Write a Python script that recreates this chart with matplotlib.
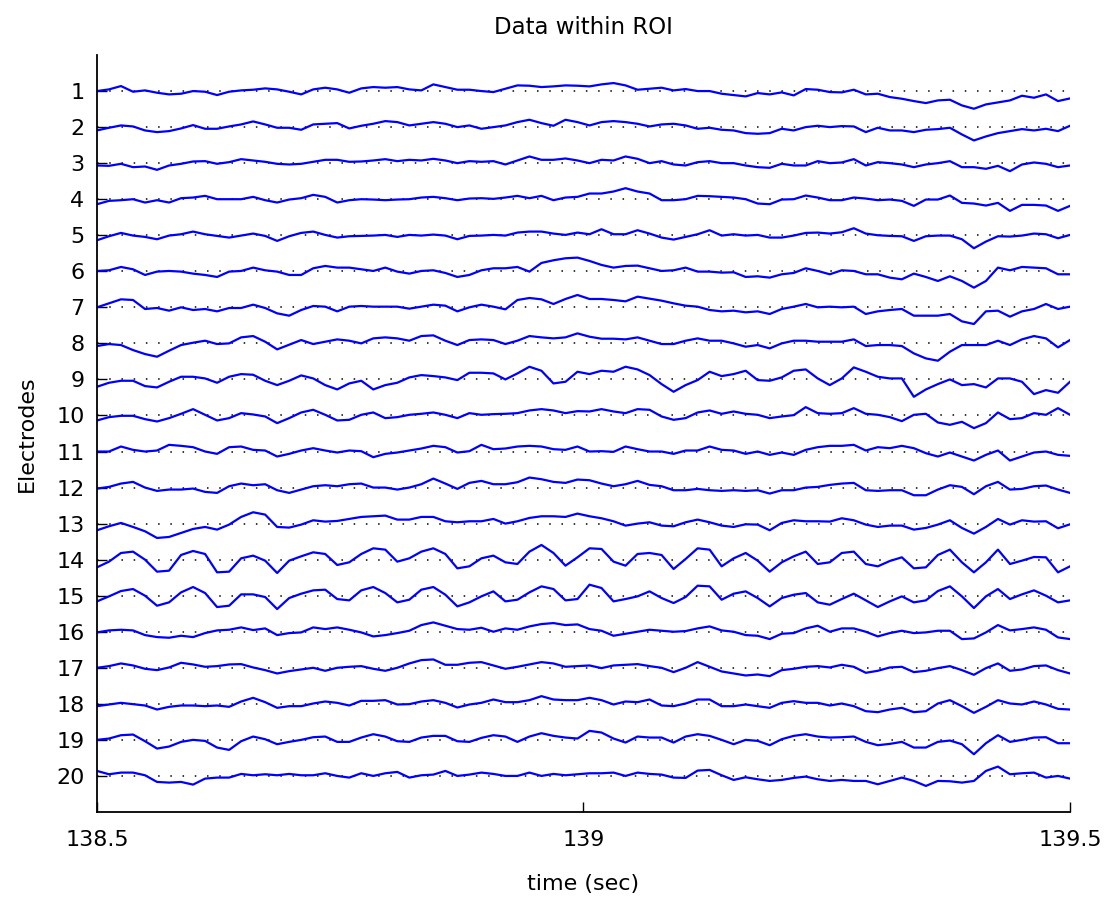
#! /usr/bin/env python
# Data within ROI - stacked electrode traces

import numpy as np
import matplotlib.pyplot as plt

plt.rcParams['font.family'] = ['DejaVu Sans']

# time axis of the region of interest (sec)
t_start, t_end = 138.5, 139.5

# deflection of each electrode from its baseline
# (arbitrary units, positive = upwards on screen)
e01 = [0, 5, 15, -2, 2, -5, -10, -8, 0, -2, -12, -2, 2, 4, 8, 5, -2, -10, 5, 10, 5, -5, 8, 12, 10, 12, 5, 2,
       20, 12, 4, 4, 0, -3, 7, 17, 16, 12, 14, 17, 16, 14, 20, 24, 17, 4, 7, 10, 2, 6, 0, 0, -8, -12, -16,
       -6, -10, -4, -13, 6, 4, -3, -4, 4, -10, -8, -18, -23, -30, -36, -28, -26, -43, -53, -40, -34, -28, -14, -20, -10, -30, -22]
e02 = [-10, -2, 5, 2, -10, -15, -12, -4, 6, -5, -5, 2, 8, 17, 8, -2, -2, -8, 8, 10, 12, -4, 4, 10, 18, 15, 5, 10,
       15, 10, 0, 5, -5, 0, 5, 15, 22, 12, 4, 22, 15, 5, 15, 18, 15, 10, 2, 8, 10, 5, -5, -2, -8, -10, -18,
       -20, -18, -5, -10, 0, 4, 0, 3, 2, -15, -2, -10, -10, -15, -8, -6, -2, -22, -40, -28, -18, -12, -6, -10, -5, -12, 4]
e03 = [-7, -8, -2, -12, -10, -20, -7, -2, 5, 6, -2, 3, 12, 8, 4, -2, -4, -2, 4, 10, 10, 4, 5, 8, 12, 6, 10, 8,
       13, 8, 0, 6, 4, 6, -4, 8, 20, 10, 10, 14, 8, 0, 10, 8, 20, 13, 0, 6, -4, -7, 3, 6, 0, 0, -7,
       -12, -14, -2, -7, -7, 6, 0, 2, 12, -7, 3, 0, -4, -12, -4, 0, 6, -12, -12, -17, -8, -24, -4, 2, -2, -12, -7]
e04 = [-15, -5, -3, 0, -10, -3, -10, 3, 5, 10, 0, 0, 0, 7, -3, -10, -1, 3, 13, 7, -10, -3, 0, -1, -3, -1, 0, 5,
       7, 3, -3, 2, 3, 1, 5, 10, 3, 10, -3, 5, 7, 17, 17, 23, 33, 23, 17, -3, -3, 0, 10, 9, 7, 5, 0,
       -13, -15, -1, 0, 11, 5, -3, -3, 5, 2, -3, -1, -5, -20, -1, -1, 11, -11, -13, -19, -11, -35, -17, -17, -19, -35, -20]
e05 = [-15, -3, 7, -1, -5, -12, -1, 3, 11, 3, -2, -7, -1, 5, -2, -17, -3, 7, 11, 1, -7, -3, -2, -1, 1, -5, 1, -1,
       2, -1, -12, -2, -1, 1, -1, 8, 11, 11, 5, 1, 8, 3, 18, 3, 3, 15, 5, -7, -13, -5, 3, 15, -1, 3, -1,
       1, -7, -7, -1, 7, 8, 5, 9, 21, 5, 0, -2, -3, -17, -3, -1, -1, -12, -39, -19, -3, -4, -1, 5, 3, -9, 1]
e06 = [1, 3, 13, 6, -11, -1, 1, -1, -7, -11, -17, -1, 1, 11, 3, -1, -11, -11, 9, 16, 11, 11, 6, 1, 11, -1, -7, 1,
       3, -5, -17, -11, 3, 9, 9, 13, -1, 25, 33, 39, 41, 31, 19, 11, 16, 17, 9, 1, 3, 11, -1, -1, -4, -3, -17,
       -15, -19, -9, -5, 9, 1, -9, 3, 1, -9, -9, -19, -24, -7, -17, -29, -15, -29, -49, -29, 11, 3, 13, 11, 9, -9, -9]
e07 = [0, 12, 24, 22, -5, -2, -10, 0, -8, -5, -12, -2, -2, 8, -2, -18, -25, -8, 4, 2, -12, 2, 4, 2, 2, 2, -4, 2,
       8, 5, -12, 0, 8, 2, -6, 22, 28, 24, 10, 25, 37, 25, 25, 22, 18, 32, 26, 20, 12, 5, 2, -8, -12, -10, -15,
       -12, -20, -5, 2, 10, 0, 2, 0, 2, -20, -12, -8, -5, -25, -25, -25, -20, -42, -50, -12, -10, -28, -12, -5, 10, -5, 2]
e08 = [-8, -2, -5, -20, -32, -40, -22, -5, 2, 8, -2, 0, 18, 22, 5, -18, -4, 10, -2, 5, 12, 8, 0, 15, 18, 15, 8, 22,
       24, 8, -5, 10, 12, 10, -2, 8, 22, 18, 15, 18, 30, 20, 14, 14, 12, 18, 8, -2, -2, 8, 15, 8, 8, 0, -10,
       -5, -15, 0, 8, 8, 5, 5, 5, 12, -8, -5, -5, -8, -30, -45, -52, -25, -5, -5, -5, 8, -5, 12, 22, 15, -12, 10]
e09 = [-22, -10, -4, -4, -20, -24, -7, 8, 8, 3, -10, 8, 16, 14, -4, -17, -4, 12, 3, -17, -30, -12, -4, -30, -17, -10, 6, 13,
       10, 6, -2, 20, 20, 18, 0, 18, 38, 26, -12, -7, 23, 16, 26, 23, 38, 30, 13, -14, -37, -17, -2, 23, 10, 16, 26,
       -2, -4, 6, 26, 30, 3, -17, 3, 36, 23, 8, 3, 3, -52, -30, -14, 0, -17, -14, -24, 3, 3, -7, -44, -32, -40, -7]
e10 = [-15, -5, -1, -1, -11, -18, -8, 5, 19, 2, -15, -8, 7, 3, -3, -23, -8, 9, 17, 2, -15, -13, 2, 9, -8, -5, 2, 5,
       9, 2, -8, 7, 2, 4, 5, 7, 15, 19, 15, 7, 13, 12, 19, 12, 7, 19, 17, -3, -13, -8, 9, 15, 5, 12, 5,
       2, -8, -3, 1, 25, 7, 5, 7, 22, 5, 2, -5, -17, 2, 5, -21, -28, -19, -38, -23, 9, -11, -8, 7, 2, 22, 2]
e11 = [0, 0, 15, 5, 0, 3, 20, 17, 13, 0, -7, 13, 15, 5, 3, -15, -7, 3, 10, 3, -3, 3, 1, -17, -7, -3, 3, 9,
       17, 13, -3, 1, 20, 7, 9, 15, 17, 15, 7, 5, 15, 0, 1, -1, 15, 7, 0, 0, -7, 3, 3, 15, 5, 3, -7,
       0, -10, -3, -10, 5, 13, 17, 17, 20, 3, 13, 10, 17, 10, -5, -15, -3, -15, -27, -10, 3, -27, -15, -3, 0, -10, -13]
e12 = [-3, 2, 12, 17, 0, -10, -6, -6, -3, -13, -16, 4, 12, 7, 10, -8, -16, -6, 4, 7, 4, 10, 12, 0, 0, -6, 0, 10,
       27, 12, -4, 14, 20, 10, 10, 16, 30, 25, 17, 14, 24, 22, 12, 4, 10, 20, 8, 4, -8, -8, -4, -8, -10, -8, -10,
       -8, -18, -8, -8, 0, 2, 8, 12, 14, -8, -10, -8, -8, -23, -23, -6, 7, 2, -20, 4, 17, -6, -4, 4, 6, -6, -16]
e13 = [-20, -8, 2, -10, -23, -43, -40, -28, -16, -10, -18, -3, 20, 34, 27, -10, -12, -3, 10, 6, 8, 14, 20, 22, 24, 12, 12, 20,
       20, 7, 4, 7, 7, 14, 0, 7, 17, 22, 22, 20, 30, 22, 16, 7, -6, 0, 4, -6, -8, 4, 12, 4, -6, -10, -2,
       -3, -20, 2, 10, 7, 7, 6, 16, 10, -3, -10, -6, -6, -18, -13, -3, 10, -13, -30, -10, 14, -3, 10, 6, 7, -14, -2]
e14 = [-23, -6, 20, 24, 0, -36, -33, 14, 26, 17, -38, -36, 4, 12, -3, -40, -3, 10, 22, 17, -16, -8, 17, 34, 30, -6, 4, 24,
       34, 17, -26, -20, 4, 12, -8, -13, 24, 44, 20, -18, 7, 34, 32, -6, -18, 17, 20, 14, -28, 2, 34, 30, -20, 4, 20,
       -3, -36, -8, 10, 24, -13, -8, 20, 24, -13, -20, -4, 7, -26, -23, 14, 30, -8, -38, -8, 30, -13, -3, 8, 7, -38, -20]
e15 = [-17, -2, 14, 20, 0, -30, -20, 10, 26, 8, -34, -30, 4, 4, -4, -40, -7, 6, 16, 18, -10, -14, 16, 26, 8, -20, -12, 18,
       26, 3, -32, -20, -2, 13, -17, -12, 10, 28, 20, -14, -10, 33, 23, -17, -10, -2, 13, -7, -22, -4, 30, 28, -12, 6, 13,
       -7, -32, -7, 3, 8, -20, -27, -10, 6, -14, -34, -17, -2, -20, -14, 14, 28, -2, -37, -2, 20, -10, 4, 16, 0, -20, -14]
e16 = [-2, 4, 6, 4, -10, -16, -18, -12, -16, -4, 4, 6, 13, 5, 10, -10, -4, -2, 13, 8, 13, 6, -2, -14, -10, -4, 3, 20,
       28, 18, 8, 6, 12, 0, 10, 6, 16, 23, 26, 20, 22, 8, 3, -12, -6, 0, 6, 3, 0, 2, 10, 16, 4, 0, -10,
       -12, -22, -6, -4, 10, 18, 0, 10, 10, 0, -14, -4, 3, -4, -2, 3, 3, -22, -20, -2, 20, 4, 8, 13, 6, -17, -22]
e17 = [0, 5, 13, 7, -3, -7, 1, 15, 10, 3, 5, 10, 11, 1, -7, -17, -10, -5, 0, -9, 0, 3, 5, -3, -9, 0, 13, 23,
       25, 9, 9, 15, 17, 7, -3, 3, 10, 17, 13, 3, 5, 7, -1, 7, 9, 11, 5, 0, -13, 0, 17, 3, -11, -17, -23,
       -20, -25, -7, -3, 3, 5, 1, 9, 3, -15, -9, 1, 3, -13, -9, -1, 5, -7, -21, -1, 13, -9, -5, 5, 7, -7, -17]
e18 = [-7, -2, 3, -1, -5, -17, -9, -5, -5, -7, -5, -9, 7, 18, 5, -12, -7, -7, 1, 7, 3, -5, 9, 9, 11, -2, -1, 7,
       11, 3, -11, -2, 3, 13, 5, 5, 11, 23, 13, 11, 11, 18, 11, -2, 7, 5, 13, -5, -7, 1, 13, 13, -7, -7, -2,
       -7, -12, 3, 8, 3, 3, -5, 1, -7, -22, -25, -17, -12, -25, -22, 1, 11, -7, -27, -9, 11, 1, -2, 7, -2, -15, -17]
e19 = [0, 4, 14, 16, -4, -26, -20, -6, 0, -3, -23, -30, -4, 10, 2, -13, -6, 0, 8, 10, -6, -6, 7, 17, 10, -4, -6, 7,
       12, 12, -4, -6, 6, 14, 10, -6, 10, 20, 12, 7, 4, 27, 22, 4, -8, 10, 7, 7, -8, 10, 17, 12, 0, -13, 0,
       -3, -16, 2, 12, 17, 10, 7, 8, 10, -6, -16, -12, -6, -23, -23, -6, -2, -13, -43, -10, 14, -6, 0, 7, 8, -10, -10]
e20 = [15, 5, 10, 10, 2, -18, -20, -18, -26, -8, -5, -5, 6, 2, 5, 2, 6, 2, 2, 8, 0, -5, 8, 0, 8, 12, -5, 2,
       4, 15, 0, 4, 10, 6, 0, 0, 10, 0, 6, 2, 5, 8, 8, 10, 0, 10, 6, 4, -5, -6, 16, 18, 2, -12, -4,
       -10, -15, -12, -6, -2, -10, -15, -12, -15, -15, -25, -15, -5, -15, -30, -15, -16, -20, -15, 15, 28, 5, 8, 10, -5, 0, -8]

electrodes = [e01, e02, e03, e04, e05, e06, e07, e08, e09, e10,
              e11, e12, e13, e14, e15, e16, e17, e18, e19, e20]
channel_labels = [str(i) for i in range(1, 21)]

# amplitude units per electrode spacing
gain = 108.0


def main():
    fig = plt.figure(figsize=(11.07, 8.99), dpi=100)
    ax = fig.add_axes([0.0876, 0.0968, 0.879, 0.842])

    n_samples = len(e01)
    t = np.linspace(t_start, t_end, n_samples)
    for i, trace in enumerate(electrodes):
        base = i + 1
        ax.plot([t_start, t_end], [base, base], color='black', lw=1.1,
                linestyle=(0, (1, 7)), zorder=1)
        ax.plot(t, base - np.array(trace) / gain, color='#0000ff', lw=1.6, zorder=2)

    ax.set_xlim(t_start, t_end)
    ax.set_ylim(len(electrodes) + 1, 0)
    ax.set_xticks([138.5, 139, 139.5])
    ax.set_xticklabels(['138.5', '139', '139.5'])
    ax.set_yticks(range(1, len(electrodes) + 1))
    ax.set_yticklabels(channel_labels)
    ax.tick_params(direction='in', length=7, width=1, labelsize=16)
    ax.tick_params(axis='x', pad=13)
    ax.tick_params(axis='y', pad=9)
    ax.spines['top'].set_visible(False)
    ax.spines['right'].set_visible(False)
    ax.spines['left'].set_linewidth(1.3)
    ax.spines['bottom'].set_linewidth(1.3)

    ax.set_xlabel('time (sec)', fontsize=16, labelpad=17)
    ax.set_ylabel('Electrodes', fontsize=16, labelpad=14)
    ax.set_title('Data within ROI', fontsize=16.5, pad=15)

    fig.savefig('out.png', dpi=100)


if __name__ == '__main__':
    main()
